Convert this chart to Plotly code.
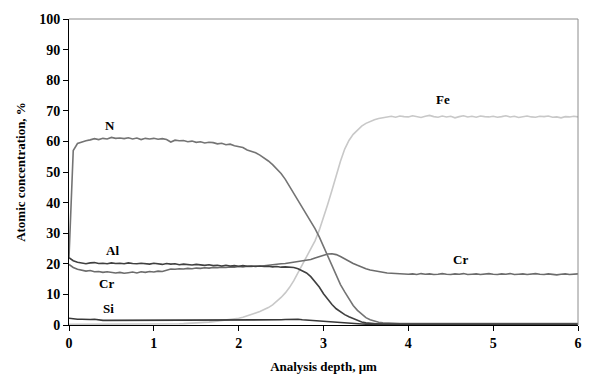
import plotly.graph_objects as go

# Depth grid of the sputter profile, μm (0.05 μm step, 0 … 6)
depth = [round(i * 0.05, 2) for i in range(121)]

# Atomic concentration, % — one row per 1 μm (20 points), plus the last point at 6 μm
n_conc = [
    22.0, 57.0, 59.3, 59.8, 60.2, 60.5, 60.9, 60.6, 61.0, 60.8, 61.3, 61.0, 61.1, 60.9, 61.2, 60.8, 61.1, 60.6, 61.0, 60.8,
    61.0, 60.7, 60.9, 60.6, 59.8, 60.4, 60.2, 60.3, 59.9, 60.1, 59.7, 59.9, 59.5, 59.7, 59.6, 59.2, 59.4, 58.9, 59.1, 58.6,
    58.2, 58.0, 57.2, 56.8, 56.3, 55.5, 54.6, 53.6, 52.4, 51.0, 49.5, 47.6, 45.3, 43.2, 41.0, 38.8, 36.5, 34.0, 31.5, 28.8,
    25.6, 22.5, 19.6, 16.4, 13.2, 10.8, 8.4, 6.4, 4.8, 3.5, 2.4, 1.7, 1.2, 0.9, 0.7, 0.6, 0.5, 0.5, 0.5, 0.5,
    0.5, 0.5, 0.5, 0.5, 0.5, 0.5, 0.5, 0.5, 0.5, 0.5, 0.5, 0.5, 0.5, 0.5, 0.5, 0.5, 0.5, 0.5, 0.5, 0.5,
    0.5, 0.5, 0.5, 0.5, 0.5, 0.5, 0.5, 0.5, 0.5, 0.5, 0.5, 0.5, 0.5, 0.5, 0.5, 0.5, 0.5, 0.5, 0.5, 0.5,
    0.5,
]

fe_conc = [
    0.2, 0.2, 0.2, 0.2, 0.2, 0.2, 0.2, 0.2, 0.2, 0.2, 0.2, 0.2, 0.2, 0.25, 0.25, 0.25, 0.25, 0.25, 0.3, 0.3,
    0.3, 0.3, 0.3, 0.35, 0.35, 0.4, 0.4, 0.45, 0.5, 0.55, 0.6, 0.7, 0.8, 0.95, 1.1, 1.25, 1.4, 1.6, 1.8, 2.0,
    2.2, 2.5, 2.9, 3.4, 3.9, 4.4, 5.0, 5.7, 6.6, 7.7, 9.0, 10.5, 12.3, 14.5, 17.0, 19.5, 22.0, 24.8, 27.5, 31.0,
    35.0, 39.5, 44.0, 49.0, 53.5, 57.5, 60.3, 62.3, 63.8, 65.0, 65.9, 66.6, 67.1, 67.5, 67.8, 68.0, 68.2, 67.9, 68.3, 68.1,
    68.0, 68.4, 68.1, 67.8, 68.2, 68.5, 68.1, 67.9, 68.3, 68.0, 68.2, 67.7, 68.1, 68.4, 68.0, 68.2, 67.9, 68.3, 68.1, 68.0,
    68.2, 67.9, 68.1, 68.4, 68.0, 68.2, 67.8, 68.1, 68.3, 68.0, 67.9, 68.2, 68.1, 68.3, 67.9, 68.0, 67.7, 68.1, 68.0, 68.2,
    68.0,
]

al_conc = [
    22.0, 21.0, 20.5, 20.2, 20.0, 20.3, 20.4, 20.1, 20.2, 20.0, 20.3, 20.1, 20.2, 20.0, 20.3, 20.1, 20.0, 20.2, 20.1, 19.9,
    20.2, 20.0, 19.8, 20.1, 19.9, 20.0, 19.7, 19.9, 19.8, 19.6, 19.8, 19.6, 19.5, 19.7, 19.4, 19.5, 19.3, 19.5, 19.3, 19.4,
    19.2, 19.4, 19.2, 19.3, 19.1, 19.3, 19.1, 19.2, 19.0, 19.1, 18.9, 19.0, 19.0, 18.8, 18.4, 17.8, 17.0, 15.8, 14.2, 12.4,
    10.2, 8.3, 6.7, 5.3, 4.3, 3.4, 2.7, 2.1, 1.5, 1.0, 0.7, 0.5, 0.4, 0.3, 0.3, 0.3, 0.3, 0.3, 0.3, 0.3,
    0.3, 0.3, 0.3, 0.3, 0.3, 0.3, 0.3, 0.3, 0.3, 0.3, 0.3, 0.3, 0.3, 0.3, 0.3, 0.3, 0.3, 0.3, 0.3, 0.3,
    0.3, 0.3, 0.3, 0.3, 0.3, 0.3, 0.3, 0.3, 0.3, 0.3, 0.3, 0.3, 0.3, 0.3, 0.3, 0.3, 0.3, 0.3, 0.3, 0.3,
    0.3,
]

cr_conc = [
    19.8, 18.8, 18.2, 17.9, 17.6, 17.8, 17.4, 17.5, 17.2, 17.4, 17.1, 17.0, 17.2, 16.9, 17.1, 17.3, 17.0, 17.4, 17.2, 17.5,
    17.3, 17.6, 17.5, 17.8, 18.3, 18.2, 18.4, 18.3, 18.5, 18.4, 18.6, 18.5, 18.7, 18.6, 18.8, 18.7, 18.9, 18.8, 19.0, 18.9,
    19.1, 19.0, 19.2, 19.1, 19.3, 19.2, 19.4, 19.5, 19.6, 19.8, 20.0, 20.1, 20.3, 20.4, 20.6, 20.8, 21.0, 21.4, 21.9, 22.4,
    22.9, 23.2, 23.3, 23.0, 22.4, 21.6, 20.8, 20.1, 19.5, 18.9, 18.4, 18.0, 17.7, 17.4, 17.2, 17.0, 16.9, 16.8, 16.7, 16.8,
    16.6, 16.7, 16.5, 16.8, 16.6, 16.7, 16.5, 16.6, 16.8, 16.6, 16.5, 16.7, 16.6, 16.8, 16.5, 16.6, 16.7, 16.5, 16.6, 16.8,
    16.6, 16.5, 16.7, 16.6, 16.8, 16.5, 16.6, 16.7, 16.5, 16.6, 16.8, 16.6, 16.5, 16.7, 16.6, 16.4, 16.6, 16.7, 16.5, 16.6,
    16.7,
]

si_conc = [
    2.2, 2.0, 1.9, 1.9, 1.8, 1.8, 1.9, 1.6, 1.5, 1.5, 1.5, 1.5, 1.5, 1.5, 1.5, 1.5, 1.5, 1.5, 1.5, 1.5,
    1.5, 1.5, 1.5, 1.5, 1.5, 1.5, 1.5, 1.5, 1.5, 1.5, 1.5, 1.5, 1.5, 1.5, 1.5, 1.5, 1.5, 1.5, 1.5, 1.5,
    1.5, 1.5, 1.5, 1.5, 1.5, 1.5, 1.5, 1.5, 1.5, 1.6, 1.7, 1.8, 1.9, 1.8, 1.9, 1.7, 1.6, 1.4, 1.3, 1.1,
    1.0, 0.9, 0.8, 0.7, 0.6, 0.55, 0.5, 0.45, 0.4, 0.35, 0.3, 0.3, 0.3, 0.3, 0.3, 0.3, 0.3, 0.3, 0.3, 0.3,
    0.3, 0.3, 0.3, 0.3, 0.3, 0.3, 0.3, 0.3, 0.3, 0.3, 0.3, 0.3, 0.3, 0.3, 0.3, 0.3, 0.3, 0.3, 0.3, 0.3,
    0.3, 0.3, 0.3, 0.3, 0.3, 0.3, 0.3, 0.3, 0.3, 0.3, 0.3, 0.3, 0.3, 0.3, 0.3, 0.3, 0.3, 0.3, 0.3, 0.3,
    0.3,
]

# Element label text and its anchor (depth, concentration)
label_text = ["N", "Al", "Cr", "Si", "Fe", "Cr"]
label_x = [0.48, 0.51, 0.44, 0.46, 4.41, 4.62]
label_y = [65.2, 24.4, 13.5, 5.5, 73.7, 21.3]

SERIF = "Liberation Serif, Times New Roman, serif"

series = [
    ("Fe", fe_conc, "#c8c8c8"),
    ("Si", si_conc, "#383838"),
    ("Cr", cr_conc, "#6c6c6c"),
    ("N", n_conc, "#747474"),
    ("Al", al_conc, "#404040"),
]

fig = go.Figure()
for name, vals, color in series:
    fig.add_trace(go.Scatter(
        x=depth, y=vals, mode="lines", name=name,
        line=dict(color=color, width=1.6),
        showlegend=False,
    ))

for t, lx, ly in zip(label_text, label_x, label_y):
    fig.add_annotation(
        x=lx, y=ly, text=f"<b>{t}</b>", showarrow=False,
        font=dict(family=SERIF, size=13, color="black"),
    )

# Gray frame on the top and right edges of the plot area
fig.add_shape(type="line", xref="x domain", yref="y domain",
              x0=0, x1=1, y0=1, y1=1, line=dict(color="#8c8c8c", width=1))
fig.add_shape(type="line", xref="x domain", yref="y domain",
              x0=1, x1=1, y0=0, y1=1, line=dict(color="#8c8c8c", width=1))

axis_common = dict(
    showgrid=False, zeroline=False, showline=True, linecolor="black", linewidth=1,
    ticks="outside", ticklen=5, tickcolor="black", tickwidth=1,
    tickfont=dict(family=SERIF, size=14, color="black"),
)

fig.update_layout(
    width=594, height=384,
    margin=dict(l=69, r=13, t=13, b=59),
    paper_bgcolor="white", plot_bgcolor="white",
    xaxis=dict(
        range=[0, 6], tick0=0, dtick=1,
        tickprefix="<b>", ticksuffix="</b>",
        title=dict(text="<b>Analysis depth, μm</b>",
                   font=dict(family=SERIF, size=13, color="black"), standoff=12),
        **axis_common,
    ),
    yaxis=dict(
        range=[0, 100], tick0=0, dtick=10,
        tickprefix="<b>", ticksuffix="</b>",
        title=dict(text="<b>Atomic concentration, %</b>",
                   font=dict(family=SERIF, size=13, color="black"), standoff=10),
        **axis_common,
    ),
)

fig.write_html("out.html")
